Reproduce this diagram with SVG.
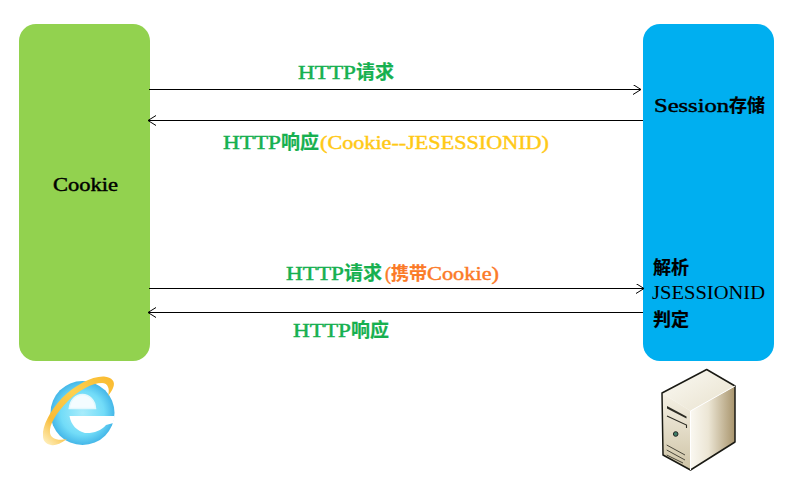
<svg xmlns="http://www.w3.org/2000/svg" width="794" height="479" viewBox="0 0 794 479">
<style>
.box{stroke:none}
.c{fill:none;stroke:#000;stroke-width:1}
text{font-family:"Liberation Serif","Noto Sans CJK SC",serif;font-size:19px;font-weight:400;stroke-width:.45px}
.cjk{font-family:"Noto Sans CJK SC",sans-serif;font-weight:700;stroke-width:.2px}
.g{fill:#16b04f;stroke:#16b04f}.y{fill:#ffc916;stroke:#ffc916}.o{fill:#fb7a27;stroke:#fb7a27}.k{fill:#000;stroke:#000}
.m{font-size:18px}
</style>
<defs>
<marker id="a" markerWidth="12" markerHeight="12" refX="9" refY="5" orient="auto" markerUnits="userSpaceOnUse"><path d="M1 0L9 5L1 10" fill="none" stroke="#000"/></marker>
<radialGradient id="ie" cx="50%" cy="50%" r="52%"><stop offset="0" stop-color="#a8ecfb"/><stop offset=".65" stop-color="#72dcf8"/><stop offset="1" stop-color="#3fb2e6"/></radialGradient>
<linearGradient id="ring" x1="0" y1="1" x2="1" y2="0"><stop offset="0" stop-color="#fff6cf"/><stop offset=".25" stop-color="#f8bb35"/><stop offset=".6" stop-color="#fdd04f"/><stop offset="1" stop-color="#fab92e"/></linearGradient>
<linearGradient id="sr" x1="0" y1="0" x2="1" y2="0"><stop offset="0" stop-color="#faf8f1"/><stop offset=".4" stop-color="#ece6d5"/><stop offset="1" stop-color="#a8946c"/></linearGradient>
<linearGradient id="sf" x1="0" y1="0" x2="0" y2="1"><stop offset="0" stop-color="#f5f1e5"/><stop offset="1" stop-color="#cfc4a6"/></linearGradient>
<linearGradient id="st" x1="0" y1="0" x2="1" y2="1"><stop offset="0" stop-color="#fbfaf4"/><stop offset="1" stop-color="#e8e1cd"/></linearGradient>
</defs>
<rect width="794" height="479" fill="#fff"/>
<g id="cookie"><rect class="box" x="19" y="24" width="131" height="337" rx="17" fill="#92d24f"/>
<text class="k" x="53" y="191" textLength="65" lengthAdjust="spacingAndGlyphs">Cookie</text></g>
<g id="session"><rect class="box" x="643" y="24" width="131" height="337" rx="17" fill="#00aff0"/>
<text class="k" x="654" y="112" textLength="75" lengthAdjust="spacingAndGlyphs">Session</text><text class="k cjk m" x="729" y="112">存储</text>
<text class="k cjk m" x="653" y="274">解析</text>
<text x="652" y="299" textLength="113" lengthAdjust="spacingAndGlyphs">JSESSIONID</text>
<text class="k cjk m" x="653" y="326">判定</text></g>
<g id="connectors">
<line class="c" x1="149" y1="89.500" x2="641" y2="89.500" marker-end="url(#a)"/>
<line class="c" x1="643" y1="120.500" x2="148" y2="120.500" marker-end="url(#a)"/>
<line class="c" x1="149" y1="288.500" x2="644" y2="288.500" marker-end="url(#a)"/>
<line class="c" x1="643" y1="312.500" x2="148" y2="312.500" marker-end="url(#a)"/>
</g>
<g id="label1"><text class="g" x="298" y="79" textLength="58" lengthAdjust="spacingAndGlyphs">HTTP</text><text class="g cjk" x="356" y="79" style="font-size:19px">请求</text></g>
<g id="label2"><text class="g" x="223" y="148.500" textLength="58" lengthAdjust="spacingAndGlyphs">HTTP</text><text class="g cjk" x="281" y="148.500" style="font-size:19px">响应</text><text class="y" x="320" y="148.500" textLength="229" lengthAdjust="spacingAndGlyphs">(Cookie--JESESSIONID)</text></g>
<g id="label3"><text class="g" x="286" y="280" textLength="58" lengthAdjust="spacingAndGlyphs">HTTP</text><text class="g cjk" x="344" y="280" style="font-size:19px">请求</text><text class="o" x="385" y="280" textLength="6" lengthAdjust="spacingAndGlyphs">(</text><text class="o cjk m" x="391" y="280">携带</text><text class="o" x="427" y="280" textLength="72" lengthAdjust="spacingAndGlyphs">Cookie)</text></g>
<g id="label4"><text class="g" x="293" y="336.500" textLength="58" lengthAdjust="spacingAndGlyphs">HTTP</text><text class="g cjk" x="351" y="336.500" style="font-size:19px">响应</text></g>
<g id="ie-icon">
<circle cx="82.500" cy="413" r="32" fill="url(#ie)"/>
<path d="M69.300 408.500C70 400 76 394.500 82.500 394.500C89 394.500 95 400 95.500 408.500Z" fill="#f4fcff" stroke="#e3f8fd" stroke-width="1.500"/>
<path d="M69.500 416H114.500L113.500 423L106 425C101 431 93 433.500 85 433C77 431 71 425 69.500 416Z" fill="#fff"/>
<path d="M43 436C42 426 50 411 62 398C75 385 92 376 104 376.500C112 377 116 382 113 388C112 391 110 393 108 396C110 389 108 383 102 383C92 383 79 390 68 401C56 413 49 425 50 433C51 439 58 441 67 439C60 444 55 446 51 445C46 444 43 441 43 436Z" fill="url(#ring)"/>
</g>
<g id="server-icon">
<path d="M662 393L706.700 369.500L735 386L690.500 411Z" fill="url(#st)"/>
<path d="M690.500 411L735 386V442L690.500 470Z" fill="url(#sr)"/>
<path d="M662 393L690.500 411V470L663 455Z" fill="url(#sf)"/>
<path d="M662 393L706.700 369.500L735 386V442L690.500 470L663 455Z" fill="none" stroke="#1a1a14" stroke-width="1.500" stroke-linejoin="round"/>
<path d="M690.500 411L735 386M690.500 411V470" fill="none" stroke="#fff" stroke-width="1"/>
<path d="M667 406L686.500 416.500L686.500 418.500L667 408.500Z" fill="#2b2a22"/>
<path d="M667 416L686.500 425V428" fill="none" stroke="#2b2a22" stroke-width="1.100"/>
<circle cx="675.700" cy="434" r="2.300" fill="#3e7e68" stroke="#222"/>
<path d="M666.700 445L685 455M666.700 450L685 460M666.700 455L683 463" stroke="#4a473a" stroke-width="1" fill="none"/>
</g>
</svg>
